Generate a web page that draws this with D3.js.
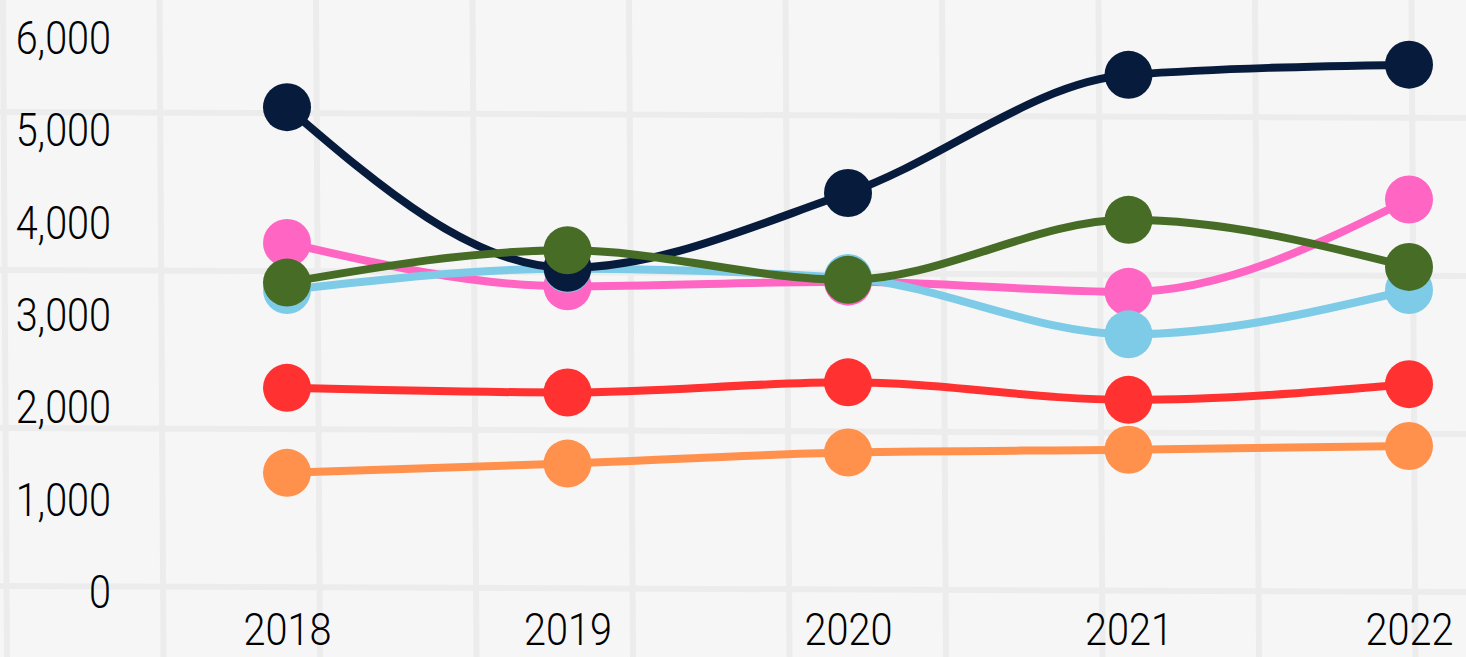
<!DOCTYPE html>
<html>
<head>
<meta charset="utf-8">
<script src="https://cdn.jsdelivr.net/npm/d3@7"></script>
<style>
  html, body { margin: 0; padding: 0; background: #f5f5f5; }
  svg { display: block; }
</style>
</head>
<body>
<svg class="chart"></svg>
<script>
var years = ['2018', '2019', '2020', '2021', '2022'];
var yTicks = [0, 1000, 2000, 3000, 4000, 5000, 6000];

var navy = [5240, 3500, 4310, 5590, 5700];
var pink = [3770, 3300, 3350, 3240, 4240];
var blue = [3260, 3490, 3390, 2780, 3260];
var green = [3340, 3690, 3370, 4020, 3510];
var red = [2200, 2150, 2260, 2070, 2240];
var orange = [1280, 1380, 1500, 1530, 1570];

var seriesList = [
	{ name: 'orange', values: orange, color: '#ff914d' },
	{ name: 'red', values: red, color: '#ff3131' },
	{ name: 'pink', values: pink, color: '#ff66c4' },
	{ name: 'blue', values: blue, color: '#7ecbe8' },
	{ name: 'navy', values: navy, color: '#071c3c' },
	{ name: 'green', values: green, color: '#466c26' }
];

var width = 1466, height = 657;
var font = "Roboto, 'Noto Sans', sans-serif";

var svg = d3.select('.chart')
	.attr('width', width)
	.attr('height', height);

// paper grid background
svg.append('rect')
	.attr('width', width)
	.attr('height', height)
	.attr('fill', '#f6f6f6');

var grid = svg.append('g').attr('stroke', '#ececec').attr('stroke-width', 6);
d3.range(3, width, 156.5).forEach(function (gx) {
	grid.append('line').attr('x1', gx).attr('x2', gx + 4).attr('y1', 0).attr('y2', height);
});
d3.range(112, height, 158).forEach(function (gy) {
	grid.append('line').attr('x1', 0).attr('x2', width).attr('y1', gy).attr('y2', gy + 6);
});

var xScale = d3.scalePoint()
	.domain(years)
	.range([287, 1409]);

var yScale = d3.scaleLinear()
	.domain([0, 6000])
	.range([591, 37]);

// squeeze text to look like the condensed face
function condense(sel, k) {
	sel.each(function () {
		var len = this.getComputedTextLength();
		d3.select(this)
			.attr('textLength', len * k)
			.attr('lengthAdjust', 'spacingAndGlyphs');
	});
}

// y axis
var yAxis = svg.append('g')
	.attr('transform', 'translate(111,0)')
	.call(d3.axisLeft(yScale).tickValues(yTicks).tickFormat(d3.format(',')).tickSize(0).tickPadding(0));
yAxis.select('.domain').remove();
yAxis.selectAll('text')
	.attr('font-family', font)
	.attr('font-weight', 300)
	.attr('font-size', 46)
	.attr('fill', '#000')
	.attr('dy', '0.36em')
	.call(condense, 0.86);

// x axis
var xAxis = svg.append('g')
	.attr('transform', 'translate(0,613)')
	.call(d3.axisBottom(xScale).tickSize(0).tickPadding(0));
xAxis.select('.domain').remove();
xAxis.selectAll('text')
	.attr('font-family', font)
	.attr('font-weight', 300)
	.attr('font-size', 44)
	.attr('fill', '#000')
	.attr('dy', '0.72em')
	.call(condense, 0.9);

var lineGen = d3.line()
	.x(function (d, i) { return xScale(years[i]); })
	.y(function (d) { return yScale(d); })
	.curve(d3.curveMonotoneX);

var groups = svg.selectAll('g.series')
	.data(seriesList)
	.enter()
	.append('g')
	.attr('class', 'series');

groups.append('path')
	.attr('d', function (s) { return lineGen(s.values); })
	.attr('fill', 'none')
	.attr('stroke', function (s) { return s.color; })
	.attr('stroke-width', 8)
	.attr('stroke-linecap', 'round');

groups.each(function (s) {
	d3.select(this).selectAll('circle')
		.data(s.values)
		.enter()
		.append('circle')
		.attr('cx', function (d, i) { return xScale(years[i]); })
		.attr('cy', function (d) { return yScale(d); })
		.attr('r', 24)
		.attr('fill', s.color);
});
</script>
</body>
</html>
